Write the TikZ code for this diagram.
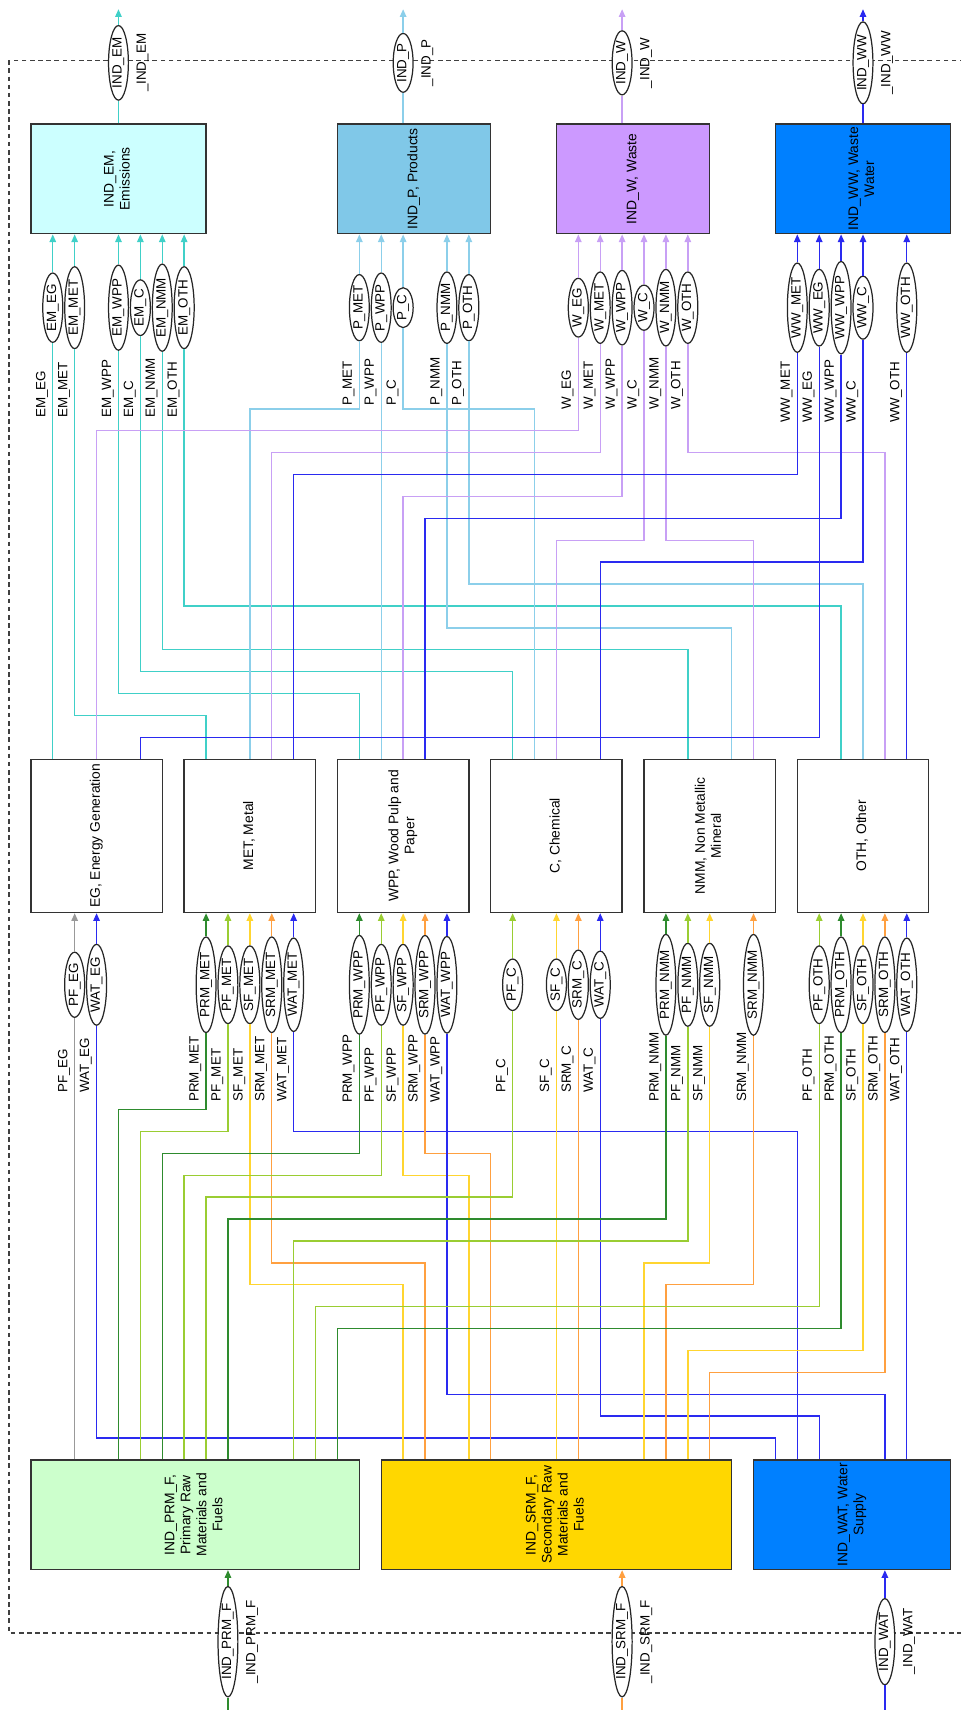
\documentclass[tikz,border=0pt]{standalone}
\usepackage{fontspec}
\setmainfont{Liberation Sans}
\usepackage{graphicx}
\definecolor{emcol}{HTML}{40D0C8}
\definecolor{pcol}{HTML}{8CCFEA}
\definecolor{wcol}{HTML}{C8A0F5}
\definecolor{wwcol}{HTML}{2A2AF0}
\definecolor{prmcol}{HTML}{2E8B2E}
\definecolor{pfcol}{HTML}{9ACD32}
\definecolor{sfcol}{HTML}{FFD530}
\definecolor{srmcol}{HTML}{FFA040}
\definecolor{emfill}{HTML}{CCFFFF}
\definecolor{pfill}{HTML}{80C8E8}
\definecolor{wfill}{HTML}{CC99FF}
\definecolor{wwfill}{HTML}{0080FF}
\definecolor{prmfill}{HTML}{CCFFCC}
\definecolor{srmfill}{HTML}{FFD700}
\usetikzlibrary{shapes.geometric, arrows.meta}
\tikzset{
	sinkbox/.style={draw=black!80, line width=0.9pt, minimum height=2.5cm, inner sep=0pt, font=\fontsize{9}{10.4}\selectfont},
	procbox/.style={sinkbox, fill=white, minimum width=3cm, minimum height=3.5cm},
	srcbox/.style={sinkbox}
}
\tikzset{
	flowell/.style={ellipse, draw=black!85, fill=white, line width=0.8pt, rotate=90, inner sep=0.7pt, font=\fontsize{8.7}{9}\selectfont},
	flowlbl/.style={rotate=90, anchor=south west, inner sep=0pt, font=\fontsize{8.7}{9}\selectfont},
	outlbl/.style={rotate=90, inner sep=0pt, font=\fontsize{8.7}{9}\selectfont},
	sysframe/.style={draw=black!75, line width=0.8pt, dash pattern=on 3pt off 2.3pt}
}
\tikzset{
	flow/.style={line width=0.9pt},
	flowarr/.style={-{Triangle[length=5pt,width=4.2pt]}},
	flowEM/.style={flow, draw=emcol},
	flowP/.style={flow, draw=pcol},
	flowW/.style={flow, draw=wcol},
	flowWW/.style={flow, draw=wwcol},
	flowPRM/.style={flow, draw=prmcol},
	flowPF/.style={flow, draw=pfcol},
	flowGR/.style={flow, draw=black!40},
	flowSF/.style={flow, draw=sfcol},
	flowSRM/.style={flow, draw=srmcol},
	flowWAT/.style={flow, draw=wwcol}
}
\newcommand{\rottext}[1]{\rotatebox{90}{\begin{tabular}{@{}c@{}}#1\end{tabular}}}

\begin{document}
\begin{tikzpicture}[x=0.5cm, y=-0.5cm]
  \useasboundingbox (-0.41,-3.67) rectangle (43.47,74.42);
  % system border, open to the right
  \draw[sysframe] (0,-0.92) rectangle (45,70.9);

  % sinks
  \node[sinkbox, fill=emfill, minimum width=4cm] (EM) at (5,4.5) {\rottext{IND\_EM,\\Emissions}};
  \node[sinkbox, fill=pfill, minimum width=3.5cm] (P) at (18.5,4.5) {\rottext{IND\_P, Products}};
  \node[sinkbox, fill=wfill, minimum width=3.5cm] (W) at (28.5,4.5) {\rottext{IND\_W, Waste}};
  \node[sinkbox, fill=wwfill, minimum width=4cm] (WW) at (39,4.5) {\rottext{IND\_WW, Waste\\Water}};

  % industry sectors
  \foreach \n/\x/\t in {EG/4/{EG, Energy Generation}, MET/11/{MET, Metal},
      WPP/18/{WPP, Wood Pulp and\\Paper}, C/25/{C, Chemical},
      NMM/32/{NMM, Non Metallic\\Mineral}, OTH/39/{OTH, Other}}
    \node[procbox] (\n) at (\x,34.5) {\rottext{\t}};

  % supplies
  \node[srcbox, fill=prmfill, minimum width=7.5cm] (PRM) at (8.5,65.5) {\rottext{IND\_PRM\_F,\\Primary Raw\\Materials and\\Fuels}};
  \node[srcbox, fill=srmfill, minimum width=8cm] (SRM) at (25,65.5) {\rottext{IND\_SRM\_F,\\Secondary Raw\\Materials and\\Fuels}};
  \node[srcbox, fill=wwfill, minimum width=4.5cm] (WAT) at (38.5,65.5) {\rottext{IND\_WAT, Water\\Supply}};

  % supply -> sector: name/sector/from x/to x/level/supply/style/label y
  \foreach \a/\b/\sx/\ex/\lv/\src/\sty/\ly in {
      PF/EG/3/3/47/PRM/flowGR/46.25, WAT/EG/35/4/62/WAT/flowWAT/46.25,
      PRM/MET/5/9/47/PRM/flowPRM/46.65, PF/MET/6/10/48/PRM/flowPF/46.65,
      SF/MET/18/11/55/SRM/flowSF/46.65, SRM/MET/19/12/54/SRM/flowSRM/46.65,
      WAT/MET/36/13/48/WAT/flowWAT/46.65,
      PRM/WPP/7/16/49/PRM/flowPRM/46.7, PF/WPP/8/17/50/PRM/flowPF/46.7,
      SF/WPP/21/18/50/SRM/flowSF/46.7, SRM/WPP/22/19/49/SRM/flowSRM/46.7,
      WAT/WPP/40/20/60/WAT/flowWAT/46.7,
      PF/C/9/23/51/PRM/flowPF/46.25, SF/C/25/25/51/SRM/flowSF/46.25,
      SRM/C/26/26/51/SRM/flowSRM/46.25, WAT/C/37/27/61/WAT/flowWAT/46.25,
      PRM/NMM/10/30/52/PRM/flowPRM/46.65, PF/NMM/13/31/53/PRM/flowPF/46.65,
      SF/NMM/29/32/54/SRM/flowSF/46.65, SRM/NMM/30/34/55/SRM/flowSRM/46.65,
      PF/OTH/14/37/56/PRM/flowPF/46.65, PRM/OTH/15/38/57/PRM/flowPRM/46.65,
      SF/OTH/31/39/58/SRM/flowSF/46.65, SRM/OTH/32/40/59/SRM/flowSRM/46.65,
      WAT/OTH/41/41/59/WAT/flowWAT/46.65}{
    \node[flowell] (\a-\b) at (\ex,41.3) {\a\_\b};
    \draw[\sty] (\src.north -| \sx,0) |- (\a-\b |- 0,\lv) -- (\a-\b);
    \draw[\sty,flowarr] (\a-\b) -- (\b.south -| \a-\b);
    \node[flowlbl] (\a-\b-l) at (\ex-0.2,\ly) {\a\_\b};
  }

  % sector -> sink: sink/sector/from x/to x/level/style/label y
  \foreach \a/\b/\sx/\ex/\lv/\sty/\ly in {
      EM/EG/2/2/15/flowEM/15.42, EM/MET/9/3/29/flowEM/15.42,
      EM/WPP/16/5/28/flowEM/15.42, EM/C/23/6/27/flowEM/15.42,
      EM/NMM/31/7/26/flowEM/15.42, EM/OTH/38/8/24/flowEM/15.42,
      P/MET/11/16/15/flowP/14.87, P/WPP/17/17/15/flowP/14.87,
      P/C/24/18/15/flowP/14.87, P/NMM/33/20/25/flowP/14.87,
      P/OTH/39/21/23/flowP/14.87,
      W/EG/4/26/16/flowW/15.05, W/MET/12/27/17/flowW/15.05,
      W/WPP/18/28/19/flowW/15.05, W/C/25/29/21/flowW/15.05,
      W/NMM/34/30/21/flowW/15.05, W/OTH/40/31/17/flowW/15.05,
      WW/MET/13/36/18/flowWW/15.65, WW/EG/6/37/30/flowWW/15.65,
      WW/WPP/19/38/20/flowWW/15.65, WW/C/27/39/22/flowWW/15.65,
      WW/OTH/41/41/22/flowWW/15.65}{
    \node[flowell] (\a-\b) at (\ex,10.38) {\a\_\b};
    \draw[\sty] (\b.north -| \sx,0) |- (\a-\b |- 0,\lv) -- (\a-\b);
    \draw[\sty,flowarr] (\a-\b) -- (\a.south -| \a-\b);
    \node[flowlbl] (\a-\b-l) at (\ex-0.2,\ly) {\a\_\b};
  }

  % flows leaving the system
  \foreach \s/\x/\sty in {EM/5/flowEM, P/18/flowP, W/28/flowW, WW/39/flowWW}{
    \node[flowell] (\s-out) at (\x,-0.8) {IND\_\s};
    \coordinate (\s-end) at (\x,-3.25);
    \draw[\sty] (\s.north -| \s-out) -- (\s-out);
    \draw[\sty,flowarr] (\s-out) -- (\s-end);
    \node[outlbl] (\s-out-l) at (\x+1.1,-0.8) {\_IND\_\s};
  }

  % flows entering the system
  \foreach \s/\x/\sty/\t in {PRM/10/flowPRM/PRM\_F, SRM/28/flowSRM/SRM\_F, WAT/40/flowWAT/WAT}{
    \coordinate (\s-start) at (\x,74.5);
    \node[flowell] (\s-in) at (\x,71.3) {IND\_\t};
    \draw[\sty] (\s-start) -- (\s-in);
    \draw[\sty,flowarr] (\s-in) -- (\s.south -| \s-in);
    \node[outlbl] (\s-in-l) at (\x+1.1,71.3) {\_IND\_\t};
  }
\end{tikzpicture}
\end{document}
